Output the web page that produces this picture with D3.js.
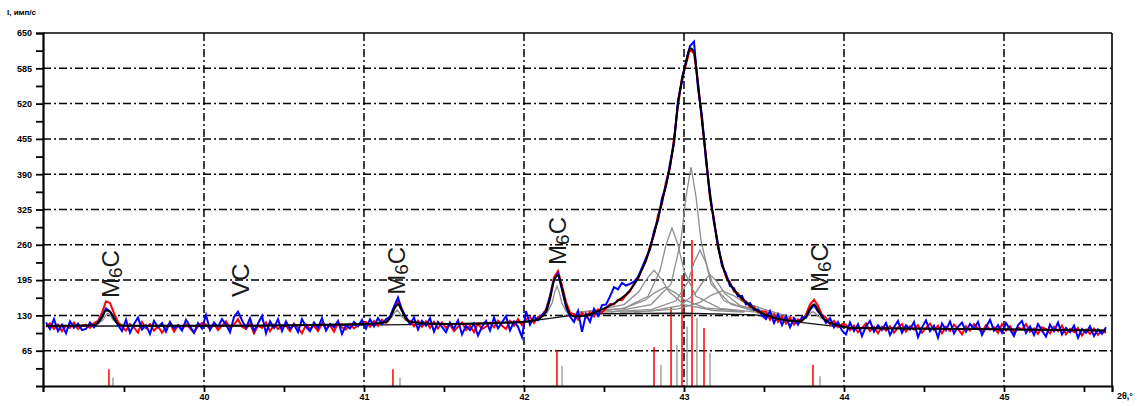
<!DOCTYPE html>
<html><head><meta charset="utf-8">
<script src="https://cdn.jsdelivr.net/npm/d3@7"></script>
<style>body{margin:0;background:#fff}svg{display:block}</style>
</head><body><svg id="c" width="1139" height="406"></svg>
<script>
// ---------- data ----------
const twoThetaStart = 39.0125, twoThetaStep = 0.025;
const blueCounts = [
117,105,123,101,113,97,119,107,115,103,
105,117,108,118,128,143,137,126,112,101,
122,98,114,126,104,112,96,120,108,116,
100,118,106,112,102,122,110,98,116,106,
131,103,117,109,123,113,99,127,137,121,
107,125,101,115,129,97,119,107,123,101,
119,105,113,99,123,109,101,117,107,125,
102,114,108,120,96,112,106,118,110,122,
106,123,110,125,114,123,128,146,163,140,
127,114,126,104,120,111,125,100,118,109,
99,117,105,121,95,111,103,115,93,109,
120,102,126,106,117,129,102,119,109,90,
138,113,128,121,131,138,165,196,207,177,
146,128,118,138,100,132,118,142,129,149,
150,165,182,178,190,185,188,192,201,218,
236,251,286,305,346,368,410,446,527,560,
598,626,634,548,497,414,356,300,262,221,
207,184,180,165,166,150,153,140,141,130,
123,138,116,132,112,129,108,125,113,127,
126,140,149,137,130,116,125,108,118,102,
95,117,101,114,92,110,120,100,112,103,
116,94,108,120,98,112,104,118,90,108,
121,101,111,89,115,103,119,97,109,117,
100,114,106,118,94,108,122,102,112,98,
116,104,92,112,120,98,110,94,114,102,
91,113,101,117,95,107,99,111,89,105,
98,110,92,104,96,108];
const redCounts = [
109,115,105,113,101,111,107,117,105,111,
113,107,116,120,135,156,153,134,118,109,
102,114,108,98,118,106,114,102,110,98,
108,116,100,112,104,114,106,98,110,116,
113,105,115,103,111,119,107,113,123,109,
105,115,97,111,107,117,101,113,105,109,
111,101,115,107,97,113,105,111,101,115,
106,112,100,116,108,104,114,106,112,118,
118,109,120,111,122,116,126,143,156,142,
122,120,110,120,109,119,107,118,106,117,
107,113,101,109,117,103,111,99,115,105,
109,117,108,120,111,105,120,111,123,112,
123,127,116,127,130,141,166,200,212,185,
155,135,132,122,135,126,136,128,141,135,
143,151,150,159,158,167,174,189,197,216,
230,258,278,314,336,376,402,455,516,568,
592,620,612,560,486,424,346,308,255,228,
200,191,174,171,158,156,145,146,135,137,
137,122,132,118,128,115,126,113,123,119,
132,150,159,148,131,126,113,120,108,114,
113,103,111,99,107,115,101,109,97,109,
102,110,98,108,114,100,110,104,112,98,
107,115,103,111,97,109,101,113,105,95,
110,102,114,106,100,112,104,108,98,114,
102,110,98,108,104,114,100,106,96,108,
105,97,109,101,111,95,105,99,107,93,
104,96,106,94,102,98];
// fitted profile (black)
const fitProfile = [
[39.0125,111],[39.3125,112],[39.3375,116],[39.3625,126],[39.3875,139],[39.4125,137],[39.4375,124],[39.4625,114],[39.4875,111],
[40.2125,111],[41.0125,114],[41.1375,118],[41.1625,125],[41.1875,141],[41.2125,150],[41.2375,138],[41.2625,124],[41.2875,118],
[41.5125,114],[41.9875,118],[42.0875,123],[42.1125,128],[42.1375,136],[42.1625,160],[42.1875,194],[42.2125,204],[42.2375,180],
[42.2625,150],[42.2875,132],[42.3125,128],[42.3875,130],[42.4875,141],[42.5875,157],[42.6625,176],[42.7125,199],[42.7625,232],
[42.8125,280],[42.8625,340],[42.9125,405],[42.9375,452],[42.9625,520],[42.9875,565],[43.0125,596],[43.0375,622],[43.0625,615],
[43.0875,555],[43.1125,490],[43.1375,420],[43.1625,350],[43.1875,304],[43.2125,258],[43.2375,225],[43.2625,203],[43.3125,177],
[43.3625,161],[43.4125,148],[43.4625,138],[43.5125,131],[43.5875,124],[43.6625,120],[43.7125,119],[43.7375,121],[43.7625,128],
[43.7875,142],[43.8125,150],[43.8375,140],[43.8625,127],[43.8875,120],[43.9375,114],[43.9875,110],[44.0375,107],[44.7625,105],[45.6375,102]];
// background (black)
const background = [[39.0125,110],[41.0,112],[41.5,114],[42.0,118],[42.15,124],[42.3,130],[42.45,133],[43.0,134],[43.45,131],[43.55,125],[43.7,118],[44.0,108],[45.6375,102]];
// fitted components (grey)
const compMain1 = [[42.544,136],[42.794,150],[42.919,188],[42.981,268],[43.013,349],[43.044,403],[43.075,349],[43.106,268],[43.169,188],[43.294,150],[43.544,132]];
const compMain2 = [[42.325,136],[42.625,143],[42.775,165],[42.85,212],[42.8875,260],[42.925,291],[42.9625,260],[43.0,212],[43.075,165],[43.225,143],[43.525,134]];
const compMain3 = [[42.5,136],[42.8,141],[42.95,157],[43.025,192],[43.0625,227],[43.1,250],[43.1375,227],[43.175,192],[43.25,157],[43.4,141],[43.45,137]];
const compMain4 = [[42.25,130],[42.4375,139],[42.625,150],[42.719,174],[42.766,197],[42.8125,213],[42.859,197],[42.906,174],[43.0,150],[43.1875,139],[43.375,136]];
const compMain5 = [[42.6,136],[42.7875,138],[42.975,148],[43.069,170],[43.116,191],[43.1625,205],[43.209,191],[43.256,170],[43.35,148],[43.5375,135],[43.65,125]];
const compMain6 = [[42.381,133],[42.631,144],[42.756,158],[42.819,172],[42.881,182],[42.944,172],[43.006,158],[43.131,144],[43.381,137]];
const compMain7 = [[42.6875,136],[42.9625,142],[43.1,154],[43.169,167],[43.2375,175],[43.306,167],[43.375,154],[43.5125,140],[43.7,124]];
const compM6C1 = [[39.28,112],[39.34,115],[39.37,122],[39.385,130],[39.4,134],[39.415,130],[39.43,122],[39.46,115],[39.52,112]];
const compM6C2 = [[41.086,117],[41.146,120],[41.176,128],[41.191,135],[41.206,140],[41.221,135],[41.236,128],[41.266,120],[41.326,117]];
const compM6C3 = [[42.086,127],[42.146,136],[42.176,153],[42.191,172],[42.206,184],[42.221,172],[42.236,153],[42.266,136],[42.326,127]];
const compM6C4 = [[43.686,120],[43.746,123],[43.776,129],[43.791,134],[43.806,137],[43.821,134],[43.836,129],[43.866,123],[43.926,120]];
const components = [compMain6, compMain4, compMain7, compMain5, compMain2, compMain3, compMain1, compM6C1, compM6C2, compM6C3, compM6C4];
// reference lines (sticks)
const redStickPos = [39.406, 41.181, 42.206, 42.8125, 42.919, 42.9875, 43.05, 43.125, 43.806];
const redStickInt = [31, 31, 66, 72, 146, 204, 269, 107, 39];
const greyStickPos = [39.431, 41.225, 42.2375, 42.856, 42.956, 43.019, 43.081, 43.1625, 43.85];
const greyStickInt = [15, 15, 37, 39, 76, 109, 125, 61, 18];
// phase labels
const phaseNames = ["M6C", "VC", "M6C", "M6C", "M6C"];
const phasePos = [39.4125, 40.225, 41.2, 42.206, 43.844];
const phaseLabelInt = [162, 164, 168, 223, 173];
// axes
const xTickValues = [40, 41, 42, 43, 44, 45];
const xMinorValues = [39.5, 40.5, 41.5, 42.5, 43.5, 44.5, 45.5];
const yTickValues = [65, 130, 195, 260, 325, 390, 455, 520, 585, 650];
const yMinorValues = [32.5, 97.5, 162.5, 227.5, 292.5, 357.5, 422.5, 487.5, 552.5, 617.5];
const yTitle = "I, имп/с";
const xTitle = "2θ,°";

// ---------- drawing ----------
const svg = d3.select('#c');
const L = 43, R = 1112, T = 33, B = 386;
const x = d3.scaleLinear().domain([38.99375, 45.675]).range([L, R]);
const y = d3.scaleLinear().domain([0, 650]).range([B, T]);

svg.append('defs').append('clipPath').attr('id', 'clip')
  .append('rect').attr('x', L).attr('y', T).attr('width', R - L).attr('height', B - T);

const dash = '8,3,2,3';
// grid
svg.append('g').selectAll('line').data(yTickValues.filter(v => v < 650)).join('line')
  .attr('x1', L).attr('x2', R).attr('y1', d => y(d)).attr('y2', d => y(d))
  .attr('stroke', '#000').attr('stroke-width', 1.5).attr('stroke-dasharray', dash);
svg.append('g').selectAll('line').data(xTickValues).join('line')
  .attr('y1', T).attr('y2', B).attr('x1', d => x(d)).attr('x2', d => x(d))
  .attr('stroke', '#000').attr('stroke-width', 1.5).attr('stroke-dasharray', dash);

const plot = svg.append('g').attr('clip-path', 'url(#clip)');
// sticks
plot.append('g').selectAll('line').data(greyStickPos).join('line')
  .attr('x1', d => x(d)).attr('x2', d => x(d)).attr('y1', y(0))
  .attr('y2', (d, i) => y(greyStickInt[i])).attr('stroke', '#a0a0a0').attr('stroke-width', 1.5);
plot.append('g').selectAll('line').data(redStickPos).join('line')
  .attr('x1', d => x(d)).attr('x2', d => x(d)).attr('y1', y(0))
  .attr('y2', (d, i) => y(redStickInt[i])).attr('stroke', '#ff0000').attr('stroke-width', 1.5);

const lineXY = d3.line().x(d => x(d[0])).y(d => y(d[1]));
const lineIdx = d3.line().x((d, i) => x(twoThetaStart + i * twoThetaStep)).y(d => y(d));

plot.append('g').selectAll('path').data(components).join('path')
  .attr('d', lineXY).attr('fill', 'none').attr('stroke', '#8e8e8e').attr('stroke-width', 1.3);
plot.append('path').datum(background).attr('d', lineXY)
  .attr('fill', 'none').attr('stroke', '#111').attr('stroke-width', 1.4);
plot.append('path').datum(redCounts).attr('d', lineIdx)
  .attr('fill', 'none').attr('stroke', '#ff0000').attr('stroke-width', 2);
plot.append('path').datum(blueCounts).attr('d', lineIdx)
  .attr('fill', 'none').attr('stroke', '#0000ff').attr('stroke-width', 2);
plot.append('path').datum(fitProfile).attr('d', d3.line().x(d => x(d[0])).y(d => y(d[1])).curve(d3.curveMonotoneX))
  .attr('fill', 'none').attr('stroke', '#000').attr('stroke-width', 2);

// frame
svg.append('line').attr('x1', L).attr('x2', R).attr('y1', T).attr('y2', T).attr('stroke', '#000').attr('stroke-width', 1.6);
svg.append('line').attr('x1', R).attr('x2', R).attr('y1', T).attr('y2', B).attr('stroke', '#000').attr('stroke-width', 1.6);

// axes
const yAxis = svg.append('g').attr('transform', `translate(${L},0)`)
  .call(d3.axisLeft(y).tickValues(yTickValues).tickSize(7).tickPadding(4).tickFormat(d3.format('d')));
const yMinor = svg.append('g').attr('transform', `translate(${L},0)`)
  .call(d3.axisLeft(y).tickValues(yMinorValues).tickSize(7).tickFormat(''));
const xAxis = svg.append('g').attr('transform', `translate(0,${B})`)
  .call(d3.axisBottom(x).tickValues(xTickValues).tickSize(6).tickPadding(2).tickFormat(d3.format('d')));
const xMinor = svg.append('g').attr('transform', `translate(0,${B})`)
  .call(d3.axisBottom(x).tickValues(xMinorValues).tickSize(6).tickFormat(''));
[yAxis, yMinor, xAxis, xMinor].forEach(g => {
  g.select('.domain').attr('stroke', '#000').attr('stroke-width', 2.2);
  g.selectAll('.tick line').attr('stroke', '#000').attr('stroke-width', 1.8);
  g.selectAll('.tick text').attr('fill', '#000')
    .style('font-family', 'Arial, "Liberation Sans", sans-serif').style('font-size', '9px').style('font-weight', 'bold');
});
xMinor.select('.domain').attr('stroke', 'none');
yMinor.select('.domain').attr('stroke', 'none');

svg.append('text').attr('x', 7).attr('y', 15).text(yTitle)
  .style('font-family', 'Arial, "Liberation Sans", sans-serif').style('font-size', '8px').style('font-weight', 'bold');
svg.append('text').attr('x', 1117).attr('y', 399).text(xTitle)
  .style('font-family', 'Arial, "Liberation Sans", sans-serif').style('font-size', '9px').style('font-weight', 'bold');

// phase labels
const lab = svg.append('g').selectAll('text').data(phaseNames).join('text')
  .attr('transform', (d, i) => `translate(${x(phasePos[i])},${y(phaseLabelInt[i])}) rotate(-90)`)
  .attr('dominant-baseline', 'central')
  .style('font-family', 'Arial, "Liberation Sans", sans-serif').style('font-size', '24px').attr('fill', '#1a1a1a');
lab.each(function(d) {
  const t = d3.select(this);
  if (d === 'M6C') {
    t.append('tspan').text('M');
    t.append('tspan').text('6').attr('dy', 5).style('font-size', '19px');
    t.append('tspan').text('C').attr('dy', -5);
  } else {
    t.text(d);
  }
});
</script>
</body></html>
